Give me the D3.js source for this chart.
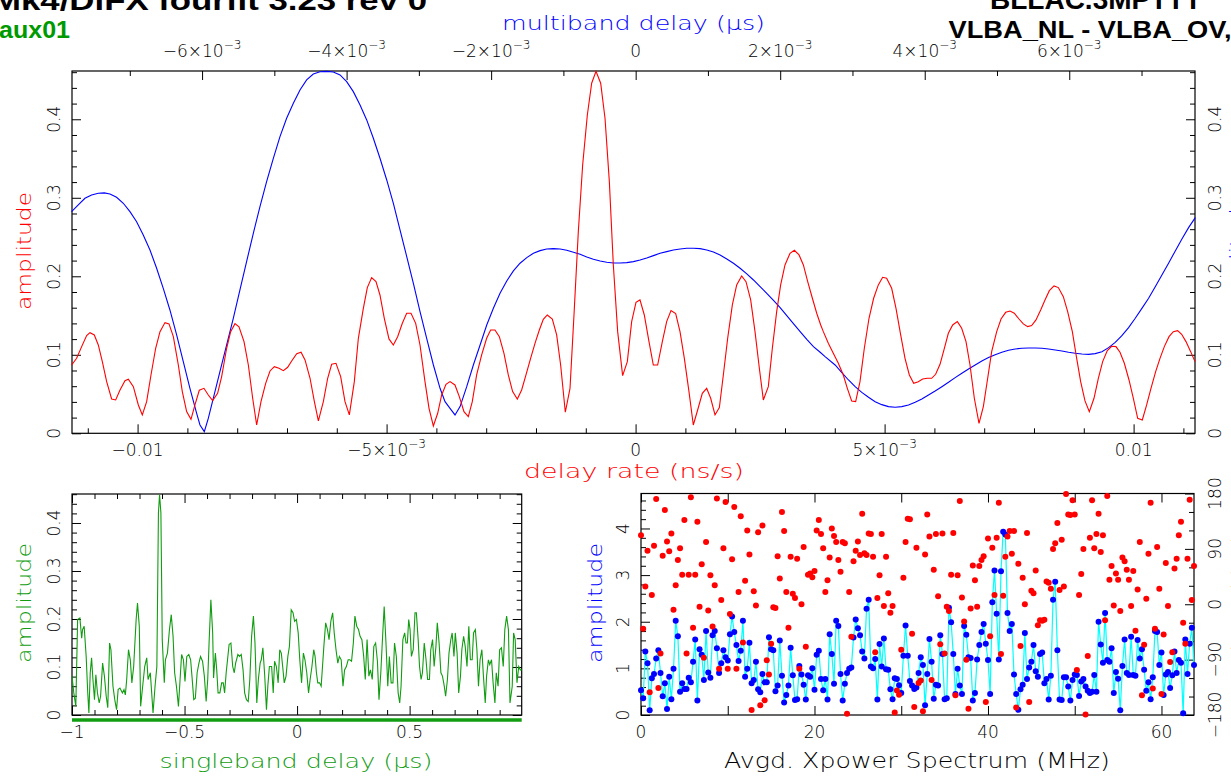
<!DOCTYPE html>
<html><head><meta charset="utf-8">
<script src="https://cdn.jsdelivr.net/npm/d3@7"></script>
<style>
body{margin:0;background:#fff;overflow:hidden}
svg{display:block}
text{font-family:"DejaVu Sans","Liberation Sans",sans-serif;font-weight:200}
.title{font-family:"Liberation Sans",Arial,sans-serif;font-weight:bold}
</style>
</head><body>
<svg id="c" width="1231" height="776"></svg>
<script>
// ---------------- data ----------------
// delay-rate spectrum (ns/s, amplitude) - red
const delayRateCurve = [
[-0.011324,0.087],[-0.011224,0.0955],[-0.011123,0.1104],[-0.011023,0.1244],[-0.010956,0.1282],[-0.010869,0.1253],[-0.010789,0.1125],[-0.010708,0.0913],[-0.010621,0.0658],[-0.010521,0.0437],[-0.01044,0.0425],[-0.010353,0.0552],[-0.010253,0.0671],[-0.010186,0.0688],[-0.010085,0.0594],[-0.009985,0.0361],[-0.009905,0.0234],[-0.009818,0.0403],[-0.009731,0.0743],[-0.009637,0.1083],[-0.00955,0.1295],[-0.00945,0.141],[-0.009369,0.1393],[-0.009282,0.1231],[-0.009182,0.087],[-0.009102,0.0531],[-0.009015,0.0276],[-0.008928,0.0178],[-0.008848,0.0361],[-0.008761,0.0548],[-0.008667,0.0573],[-0.00858,0.0488],[-0.008493,0.0416],[-0.008393,0.051],[-0.008312,0.0722],[-0.008212,0.1083],[-0.008131,0.1295],[-0.008044,0.1397],[-0.007964,0.1355],[-0.007863,0.1168],[-0.007776,0.087],[-0.007689,0.0446],[-0.007609,0.0106],[-0.007522,0.0403],[-0.007428,0.0637],[-0.007341,0.0794],[-0.007254,0.0849],[-0.00716,0.0828],[-0.007073,0.0798],[-0.006986,0.0841],[-0.006906,0.0921],[-0.006805,0.1015],[-0.006718,0.1032],[-0.006638,0.0934],[-0.006537,0.0701],[-0.00645,0.0403],[-0.00637,0.0157],[-0.00627,0.0403],[-0.006183,0.0701],[-0.006103,0.0879],[-0.006016,0.0892],[-0.005922,0.0722],[-0.005835,0.0403],[-0.005748,0.0234],[-0.005648,0.0658],[-0.005567,0.121],[-0.005467,0.1592],[-0.005387,0.1856],[-0.0053,0.1983],[-0.005213,0.1932],[-0.005133,0.1762],[-0.005046,0.1465],[-0.004952,0.1202],[-0.004865,0.1125],[-0.004778,0.1231],[-0.004684,0.1401],[-0.004597,0.1529],[-0.00451,0.1529],[-0.004416,0.1401],[-0.004329,0.1125],[-0.004229,0.0658],[-0.004148,0.0318],[-0.004061,0.0093],[-0.003974,0.0255],[-0.003894,0.0488],[-0.003807,0.0624],[-0.003726,0.0658],
[-0.003627,0.0616],[-0.00354,0.0467],[-0.003446,0.0276],[-0.003359,0.0212],[-0.003279,0.0403],[-0.003192,0.0743],[-0.003091,0.0998],[-0.002991,0.121],[-0.002911,0.1316],[-0.002824,0.1316],[-0.002736,0.1231],[-0.002643,0.1019],[-0.002556,0.0743],[-0.002469,0.0531],[-0.002375,0.0437],[-0.002288,0.0552],[-0.002201,0.0743],[-0.002108,0.0955],[-0.00202,0.1146],[-0.001933,0.1316],[-0.001853,0.1452],[-0.001773,0.1507],[-0.001672,0.1456],[-0.001585,0.1253],[-0.001505,0.087],[-0.001411,0.0268],[-0.001317,0.0573],[-0.001237,0.1507],[-0.00115,0.2569],[-0.001063,0.3418],[-0.000969,0.4055],[-0.000882,0.4459],[-0.000795,0.461],[-0.000701,0.4459],[-0.000614,0.4013],[-0.000527,0.3206],[-0.000447,0.2144],[-0.00036,0.1295],[-0.00026,0.0735],[-0.000166,0.0913],[-0.000079,0.1423],[0.000008,0.1669],[0.000088,0.1699],[0.000175,0.1507],[0.000269,0.1168],[0.000356,0.087],[0.000443,0.087],[0.000537,0.1168],[0.000624,0.1423],[0.000711,0.1563],[0.000805,0.1524],[0.000892,0.1295],[0.000979,0.0955],[0.001072,0.0531],[0.001159,0.0106],[0.001246,0.0297],[0.00134,0.051],[0.001427,0.0573],[0.001508,0.0446],[0.001595,0.0234],[0.001682,0.0327],[0.001762,0.0743],[0.001849,0.121],[0.001943,0.1635],[0.00203,0.189],[0.00213,0.2004],[0.002217,0.1932],[0.002311,0.1699],[0.002398,0.1295],[0.002485,0.0828],[0.002565,0.0425],[0.002665,0.0594],[0.002746,0.1083],[0.002833,0.155],[0.002913,0.189],[0.003,0.2144],[0.003101,0.2293],[0.003188,0.2331],[0.003282,0.2272],[0.003369,0.2144],[0.003456,0.1932],[0.00355,0.172],[0.003637,0.1529],[0.003717,0.138],
[0.00377,0.1295],[0.00387,0.1146],[0.00397,0.1019],[0.004071,0.0892],[0.004171,0.0743],[0.004252,0.0573],[0.004339,0.0412],[0.004419,0.0403],[0.004506,0.0658],[0.004593,0.1083],[0.004687,0.1465],[0.00478,0.172],[0.004874,0.189],[0.004961,0.1987],[0.005041,0.1975],[0.005142,0.1847],[0.005229,0.1592],[0.005323,0.1253],[0.00541,0.0955],[0.005497,0.0743],[0.005584,0.0637],[0.005677,0.0658],[0.005764,0.0692],[0.005858,0.0701],[0.005945,0.0701],[0.006025,0.0752],[0.006113,0.0879],[0.0062,0.1083],[0.00628,0.1274],[0.006367,0.138],[0.006461,0.1423],[0.006548,0.1338],[0.006635,0.1168],[0.006715,0.087],[0.006802,0.0446],[0.006896,0.0127],[0.006983,0.034],[0.00707,0.0701],[0.00715,0.104],[0.007251,0.1295],[0.007338,0.1456],[0.007432,0.1541],[0.007518,0.1558],[0.007605,0.1529],[0.007699,0.1456],[0.007786,0.1393],[0.007873,0.1359],[0.007953,0.1372],[0.00804,0.1444],[0.008134,0.1571],[0.008221,0.1699],[0.008308,0.1817],[0.008402,0.1877],[0.008489,0.1856],[0.008589,0.1741],[0.008676,0.155],[0.00877,0.1295],[0.008857,0.0955],[0.008937,0.0658],[0.009024,0.0412],[0.009111,0.0276],[0.009205,0.0446],[0.009292,0.0701],[0.009379,0.0913],[0.009472,0.1053],[0.009559,0.1108],[0.009646,0.1104],[0.009727,0.1032],[0.009814,0.0892],[0.009908,0.0679],[0.009995,0.0446],[0.010082,0.0191],[0.010175,0.017],[0.010262,0.0361],[0.010349,0.0573],[0.010443,0.0786],[0.01053,0.0955],[0.010617,0.1104],[0.010711,0.1231],[0.010798,0.1295],[0.010885,0.1308],[0.010965,0.1261],[0.011052,0.1168],[0.011146,0.104],[0.011233,0.0913]
];
// multiband delay function (us, amplitude) - blue
const multibandCurve = [
[-0.007806,0.2824],[-0.007713,0.2909],[-0.007621,0.2994],[-0.007529,0.3036],[-0.007436,0.3057],[-0.007353,0.3062],[-0.007275,0.3049],[-0.007183,0.3006],[-0.00709,0.293],[-0.006998,0.2824],[-0.006906,0.2696],[-0.006814,0.2527],[-0.006721,0.2335],[-0.006629,0.2102],[-0.006537,0.1847],[-0.006445,0.1571],[-0.006352,0.1253],[-0.00626,0.0913],[-0.006168,0.0573],[-0.006075,0.0255],[-0.006029,0.0106],[-0.005969,0.0021],[-0.005914,0.0191],[-0.005845,0.0446],[-0.005753,0.0786],[-0.00566,0.1125],[-0.005568,0.1465],[-0.005476,0.1826],[-0.005384,0.2187],[-0.005291,0.2548],[-0.005199,0.2887],[-0.005107,0.3206],[-0.005014,0.3503],[-0.004922,0.3779],[-0.00483,0.4013],[-0.004737,0.4204],[-0.004645,0.4374],[-0.004553,0.4501],[-0.004461,0.4577],[-0.004368,0.4606],[-0.004276,0.461],[-0.004184,0.4602],[-0.004091,0.4565],[-0.003999,0.448],[-0.003907,0.4352],[-0.003814,0.4183],[-0.003722,0.3992],[-0.00363,0.3758],[-0.003538,0.3503],[-0.003445,0.3227],[-0.003353,0.293],[-0.003261,0.259],[-0.003168,0.2251],[-0.003076,0.1911],[-0.002984,0.155],[-0.002892,0.121],[-0.002799,0.087],[-0.002707,0.0573],[-0.002638,0.0403],[-0.002569,0.0318],
[-0.0025,0.0234],[-0.00243,0.034],[-0.002338,0.0594],[-0.002246,0.087],[-0.002153,0.1125],[-0.002061,0.138],[-0.001969,0.1592],[-0.001877,0.1783],[-0.001784,0.1941],[-0.001692,0.2068],[-0.0016,0.2166],[-0.001507,0.2238],[-0.001415,0.2293],[-0.001323,0.2327],[-0.001231,0.2348],[-0.001138,0.2352],[-0.001046,0.2348],[-0.000954,0.2331],[-0.000861,0.2306],[-0.000769,0.228],[-0.000677,0.2246],[-0.000585,0.2217],[-0.000492,0.2195],[-0.0004,0.2178],[-0.000308,0.217],[-0.000215,0.217],[-0.000123,0.2174],[-0.000031,0.2187],[0.000061,0.2208],[0.000153,0.2234],[0.000246,0.2263],[0.000338,0.2293],[0.00043,0.2314],[0.000522,0.2335],[0.000615,0.2348],[0.000707,0.2357],[0.000799,0.2357],[0.000892,0.2352],[0.000984,0.2335],[0.001076,0.231],[0.001168,0.2272],[0.001261,0.2221],[0.001353,0.2166],[0.001445,0.2102],[0.001538,0.203],[0.00163,0.1953],[0.001722,0.1868],[0.001814,0.1783],[0.001907,0.1694],[0.001999,0.1601],[0.002091,0.1499],[0.002183,0.1397],[0.002276,0.1295],[0.002368,0.1197],[0.00246,0.1104],[0.002553,0.1032],[0.002621,0.0977],
[0.00276,0.087],[0.002853,0.0773],[0.002945,0.0679],[0.003037,0.0594],[0.003129,0.0522],[0.003222,0.0459],[0.003314,0.0403],[0.003406,0.0365],[0.003498,0.034],[0.003591,0.0331],[0.003683,0.034],[0.003775,0.0361],[0.003868,0.0395],[0.00396,0.0437],[0.004052,0.0488],[0.004144,0.0539],[0.004237,0.0594],[0.004329,0.065],[0.004421,0.0709],[0.004514,0.0764],[0.004606,0.082],[0.004698,0.087],[0.00479,0.0921],[0.004883,0.0964],[0.004975,0.1002],[0.005067,0.1032],[0.00516,0.1057],[0.005252,0.1074],[0.005344,0.1083],[0.005436,0.1087],[0.005529,0.1087],[0.005621,0.1083],[0.005713,0.1074],[0.005806,0.1062],[0.005898,0.1049],[0.00599,0.1032],[0.006082,0.1019],[0.006175,0.1011],[0.006267,0.1006],[0.006359,0.1015],[0.006452,0.104],[0.006544,0.1091],[0.006636,0.1159],[0.006728,0.1244],[0.006821,0.1346],[0.006913,0.1465],[0.007005,0.1592],[0.007098,0.172],[0.00719,0.1868],[0.007282,0.2017],[0.007374,0.2166],[0.007467,0.2323],[0.007559,0.2476],[0.007651,0.262],[0.007744,0.2747]
];
// singleband delay function (us, amplitude) - green
const singlebandCurve = [
[-1.000,0.081],[-0.992,0.046],[-0.983,0.018],[-0.975,0.199],[-0.965,0.202],[-0.957,0.160],[-0.953,0.178],[-0.946,0.185],[-0.937,0.122],[-0.930,0.046],[-0.925,0.004],[-0.919,0.088],[-0.913,0.119],[-0.907,0.074],[-0.900,0.032],[-0.894,0.084],[-0.887,0.046],[-0.879,0.025],[-0.873,0.039],[-0.864,0.108],[-0.856,0.081],[-0.848,0.039],[-0.841,0.015],[-0.833,0.150],[-0.827,0.136],[-0.818,0.060],[-0.810,0.032],[-0.802,0.011],[-0.795,0.053],[-0.787,0.056],[-0.776,0.046],[-0.769,0.053],[-0.763,0.042],[-0.757,0.074],[-0.749,0.136],[-0.741,0.115],[-0.734,0.067],[-0.726,0.101],[-0.715,0.199],[-0.709,0.233],[-0.701,0.185],[-0.695,0.018],[-0.686,0.060],[-0.677,0.101],[-0.668,0.119],[-0.662,0.074],[-0.652,0.088],[-0.645,0.039],[-0.640,0.004],[-0.631,0.060],[-0.623,0.101],[-0.616,0.421],[-0.611,0.459],[-0.605,0.421],[-0.599,0.157],[-0.590,0.067],[-0.585,0.115],[-0.576,0.129],[-0.567,0.178],[-0.559,0.209],[-0.551,0.164],[-0.544,0.088],[-0.536,0.060],[-0.527,0.018],[-0.518,0.088],[-0.513,0.126],[-0.505,0.115],[-0.498,0.070],[-0.490,0.122],[-0.481,0.126],[-0.473,0.115],[-0.467,0.081],[-0.459,0.032],[-0.452,0.035],[-0.444,0.088],[-0.436,0.108],[-0.429,0.122],[-0.420,0.112],[-0.412,0.081],[-0.404,0.028],[-0.397,0.074],[-0.391,0.150],[-0.383,0.240],[-0.375,0.171],[-0.371,0.077],[-0.363,0.129],[-0.357,0.094],[-0.351,0.046],[-0.343,0.046],[-0.335,0.067],[-0.328,0.067],[-0.322,0.046],[-0.315,0.088],[-0.309,0.115],[-0.302,0.147],[-0.294,0.150],[-0.286,0.101],[-0.279,0.088],[-0.273,0.108],[-0.263,0.126],[-0.256,0.122],[-0.248,0.126],[-0.240,0.094],[-0.233,0.046],[-0.225,0.032],[-0.217,0.028],[-0.210,0.074],[-0.202,0.164],[-0.194,0.206],[-0.187,0.150],[-0.179,0.025],[-0.172,0.074],[-0.164,0.108],[-0.159,0.115],[-0.152,0.140],[-0.144,0.084],[-0.136,0.011],[-0.130,0.060],[-0.123,0.101],[-0.113,0.101],[-0.106,0.046],[-0.100,0.112],[-0.092,0.101],[-0.084,0.067],[-0.077,0.136],[-0.070,0.129],[-0.064,0.101],[-0.057,0.067],[-0.049,0.081],[-0.041,0.122],[-0.034,0.143],[-0.026,0.219],[-0.018,0.213],[-0.011,0.195],[-0.003,0.199],[0.005,0.171],[0.012,0.115],[0.020,0.067],[0.028,0.129],[0.035,0.115],[0.043,0.088],[0.051,0.046],[0.058,0.074],[0.066,0.101],[0.074,0.136],[0.080,0.122],[0.086,0.088],[0.092,0.067],[0.100,0.067],[0.107,0.060],[0.113,0.101],[0.119,0.143],[0.127,0.192],[0.135,0.178],[0.142,0.157],[0.150,0.195],[0.158,0.213],[0.165,0.171],[0.173,0.136],[0.181,0.108],[0.188,0.122],[0.196,0.115],[0.204,0.060],[0.211,0.094],[0.219,0.101],[0.227,0.115],[0.234,0.115],[0.242,0.112],[0.250,0.150],[0.257,0.206],[0.265,0.185],[0.273,0.178],[0.280,0.164],[0.288,0.157],[0.296,0.122],[0.303,0.074],[0.311,0.157],[0.319,0.081],[0.326,0.094],[0.334,0.074],[0.341,0.143],[0.349,0.150],[0.357,0.112],[0.364,0.032],[0.372,0.088],[0.380,0.164],[0.387,0.226],[0.395,0.150],[0.403,0.060],[0.410,0.122],[0.418,0.067],[0.426,0.067],[0.433,0.150],[0.441,0.122],[0.449,0.046],[0.456,0.025],[0.462,0.060],[0.470,0.157],[0.478,0.171],[0.484,0.150],[0.490,0.150],[0.496,0.199],[0.502,0.178],[0.508,0.122],[0.516,0.136],[0.524,0.213],[0.530,0.213],[0.538,0.157],[0.544,0.101],[0.551,0.074],[0.557,0.088],[0.565,0.150],[0.573,0.115],[0.580,0.074],[0.588,0.074],[0.594,0.136],[0.602,0.157],[0.609,0.101],[0.617,0.143],[0.623,0.192],[0.631,0.150],[0.639,0.088],[0.646,0.081],[0.654,0.060],[0.660,0.039],[0.668,0.074],[0.675,0.129],[0.683,0.157],[0.689,0.171],[0.697,0.122],[0.703,0.171],[0.711,0.129],[0.718,0.046],[0.726,0.081],[0.732,0.136],[0.740,0.164],[0.747,0.143],[0.755,0.101],[0.763,0.185],[0.770,0.115],[0.778,0.115],[0.784,0.171],[0.792,0.178],[0.799,0.136],[0.806,0.060],[0.813,0.115],[0.821,0.136],[0.828,0.081],[0.836,0.025],[0.842,0.081],[0.850,0.115],[0.856,0.105],[0.864,0.115],[0.871,0.067],[0.879,0.025],[0.885,0.088],[0.893,0.060],[0.900,0.136],[0.908,0.140],[0.916,0.101],[0.923,0.178],[0.931,0.206],[0.939,0.178],[0.946,0.025],[0.956,0.060],[0.962,0.171],[0.969,0.157],[0.977,0.067],[0.985,0.101],[0.992,0.094],[0.998,0.094]
];
const sbdWindow = [-1.0, 0.998];
// cross-power spectrum: channel spacing (MHz), amplitude, phase (deg)
const chanStepMHz = 0.25;
const xpAmp = [
0.53,0.36,1.36,1.11,0.10,0.79,0.88,1.21,1.39,0.90,0.40,0.68,0.13,0.82,0.34,0.99,2.02,1.69,0.50,0.68,
0.56,0.56,0.80,0.70,1.14,1.62,0.31,1.41,1.29,0.75,1.80,0.91,0.80,1.71,1.80,1.43,0.90,1.11,1.39,1.24,
1.17,1.73,2.11,1.78,1.50,1.16,1.38,2.02,0.82,0.99,1.55,0.68,0.75,1.14,0.55,0.49,0.88,0.70,0.70,1.67,
1.41,1.39,0.51,0.63,1.60,0.84,0.27,0.43,0.63,1.44,0.85,0.32,0.34,1.05,0.87,0.65,0.33,0.85,0.82,1.00,
0.54,1.29,1.38,0.77,0.53,0.77,0.33,1.73,1.31,0.67,2.02,1.91,0.88,0.31,0.67,0.90,0.99,1.02,1.66,2.05,
1.86,1.71,1.36,1.21,2.28,2.47,1.04,1.00,1.20,0.33,1.52,1.04,1.64,0.98,0.97,0.55,0.34,0.79,0.77,0.64,
0.47,1.27,1.92,1.27,0.73,0.63,0.56,0.59,0.90,1.24,1.07,0.21,0.88,1.63,1.14,0.35,0.65,0.63,1.71,1.31,
0.34,0.36,2.30,1.99,1.31,0.45,0.99,0.63,0.45,1.91,1.72,1.24,1.22,0.31,0.47,1.19,1.50,1.78,1.95,1.53,
1.18,0.45,2.42,3.10,2.17,1.19,3.08,3.93,3.87,2.19,1.80,1.95,0.87,0.45,0.11,0.55,0.65,1.76,0.77,1.02,
1.14,1.50,0.94,0.82,1.31,1.34,0.68,0.77,0.33,0.84,2.47,2.86,1.39,0.33,0.32,0.81,0.81,0.61,0.31,0.75,
0.87,0.86,0.41,0.72,0.77,0.61,0.52,0.47,0.50,0.86,0.50,2.00,1.51,1.12,2.19,1.18,1.14,1.43,0.47,0.92,
0.78,0.10,1.05,1.62,0.90,0.86,1.68,0.86,0.84,1.61,1.21,1.41,0.97,0.52,0.70,0.34,0.81,1.80,1.78,1.07,
1.34,0.43,0.87,0.92,0.58,0.85,1.36,0.90,1.18,1.12,0.04,1.62,0.88,1.53,1.87,1.07
];
const xpPhase = [
112,-40,29,87,-143,15,95,171,-136,-80,79,153,102,86,115,-9,31,72,91,48,
137,-80,48,174,-38,48,134,-4,65,-87,101,-10,47,-36,31,172,-105,7,91,166,
-105,-16,73,158,-105,20,143,-62,38,120,81,-172,21,-2,117,-164,128,-156,-91,-114,
-64,-5,-6,78,42,150,119,20,-38,77,17,10,74,-105,0,93,-69,48,50,44,
54,120,137,114,91,20,39,76,123,111,101,72,53,101,99,-178,20,-53,70,87,
102,80,147,83,80,115,114,77,-78,10,47,114,-3,77,18,-14,-3,-176,-140,-147,
-74,43,101,139,138,-48,-167,92,-128,-124,-174,81,146,110,-123,56,114,13,-65,115,
-80,-4,-11,48,116,-148,47,168,11,-28,-90,-170,-7,63,39,-4,62,72,78,-159,
107,-52,92,15,108,165,-81,14,77,110,119,82,119,-168,66,-68,43,0,116,-159,
22,18,55,-34,-26,-27,-25,37,35,25,90,99,132,23,105,29,179,146,145,169,
146,-107,15,49,90,-179,-84,108,169,91,114,147,85,112,-26,176,40,62,-2,50,
40,-11,76,70,56,40,-3,54,-43,24,101,-148,-66,9,82,165,-137,-40,93,25,
-146,-49,67,-3,-94,-78,58,74,112,134,-30,-64,74,170,7,62
];
// tick values / labels
const rateTicks = [-0.01,-0.005,0,0.005,0.01];
const rateLabels = ["−0.01","−5×10^−3","0","5×10^−3","0.01"];
const mbdTicks = [-0.006,-0.004,-0.002,0,0.002,0.004,0.006];
const mbdLabels = ["−6×10^−3","−4×10^−3","−2×10^−3","0","2×10^−3","4×10^−3","6×10^−3"];
const ampTicks = [0,0.1,0.2,0.3,0.4];
const ampLabels = ["0","0.1","0.2","0.3","0.4"];
const sbdTicks = [-1,-0.5,0,0.5];
const sbdLabels = ["−1","−0.5","0","0.5"];
const freqTicks = [0,20,40,60];
const freqLabels = ["0","20","40","60"];
const xpAmpTicks = [0,1,2,3,4];
const xpAmpLabels = ["0","1","2","3","4"];
const phaseTicks = [-180,-90,0,90,180];
const phaseLabels = ["−180","−90","0","90","180"];

// ---------------- drawing ----------------
const svg = d3.select("#c");
const RED="#ff0000", BLUE="#0000ff", GREEN="#119c11", CYAN="#00ffff";
const TOP={l:72,r:1195,t:71,b:433.3};
const BL={l:72,r:521.7,t:494,b:715};
const BR={l:641,r:1194,t:493.5,b:715};

const xRate = d3.scaleLinear().domain([-0.011317,0.011233]).range([TOP.l,TOP.r]);
const xMbd  = d3.scaleLinear().domain([-0.0078,0.00774]).range([TOP.l,TOP.r]);
const yTop  = d3.scaleLinear().domain([0,0.4615]).range([TOP.b,TOP.t]);
const xSbd  = d3.scaleLinear().domain([-1,0.998]).range([BL.l,BL.r]);
const ySbd  = d3.scaleLinear().domain([0,0.4604]).range([BL.b,BL.t]);
const xFreq = d3.scaleLinear().domain([0,63.75]).range([BR.l,BR.r]);
const yXAmp = d3.scaleLinear().domain([0,4.75]).range([BR.b,BR.t]);
const yPh   = d3.scaleLinear().domain([-180,180]).range([BR.b,BR.t]);

function ticks(axisFn, scale, vals, len, tr){
  const g = svg.append("g").attr("transform",tr)
    .call(axisFn(scale).tickValues(vals).tickSize(-len).tickFormat(""));
  g.select(".domain").remove();
  g.selectAll("line").attr("stroke","#000").attr("stroke-width",1);
}
function frame(P){
  svg.append("rect").attr("x",P.l).attr("y",P.t).attr("width",P.r-P.l).attr("height",P.b-P.t)
    .attr("fill","none").attr("stroke","#000").attr("stroke-width",1.2);
}
function minor(lo,hi,step,majors){
  return d3.range(Math.round(lo/step),Math.round(hi/step)+1).map(i=>+(i*step).toFixed(6))
    .filter(v=>!majors.some(m=>Math.abs(m-v)<step/10));
}
const MAJ=9, MIN=5, FS=17;
function hlabel(x,y,str,color){
  const parts=str.split("^");
  const t=svg.append("text").attr("x",x).attr("y",y).attr("text-anchor","middle")
    .attr("font-size",FS).attr("fill",color||"#000");
  t.append("tspan").text(parts[0]);
  if(parts[1]) t.append("tspan").attr("dy",-8).attr("font-size",12).text(parts[1]);
}
function vlabel(x,y,str,color,fs,len){
  const t=svg.append("text").attr("transform",`translate(${x},${y}) rotate(-90)`)
    .attr("text-anchor","middle").attr("font-size",fs||FS).attr("fill",color||"#000").text(str);
  if(len) t.attr("textLength",len).attr("lengthAdjust","spacingAndGlyphs");
}
function title(x,y,str,color,fs,len){
  const t=svg.append("text").attr("x",x).attr("y",y).attr("text-anchor","middle")
    .attr("font-size",fs).attr("fill",color).text(str);
  if(len) t.attr("textLength",len).attr("lengthAdjust","spacingAndGlyphs");
}

// ===== top panel =====
frame(TOP);
const ampMinor = minor(0,0.46,0.02,ampTicks);
ticks(d3.axisLeft, yTop, ampTicks, MAJ, `translate(${TOP.l},0)`);
ticks(d3.axisLeft, yTop, ampMinor, MIN, `translate(${TOP.l},0)`);
ticks(d3.axisRight, yTop, ampTicks, MAJ, `translate(${TOP.r},0)`);
ticks(d3.axisRight, yTop, ampMinor, MIN, `translate(${TOP.r},0)`);
ticks(d3.axisBottom, xRate, rateTicks, MAJ, `translate(0,${TOP.b})`);
ticks(d3.axisBottom, xRate, minor(-0.011,0.011,0.001,rateTicks), MIN, `translate(0,${TOP.b})`);
ticks(d3.axisTop, xMbd, mbdTicks, MAJ, `translate(0,${TOP.t})`);
ticks(d3.axisTop, xMbd, minor(-0.007,0.007,0.001,mbdTicks), MIN, `translate(0,${TOP.t})`);

svg.append("path").datum(multibandCurve).attr("fill","none").attr("stroke",BLUE).attr("stroke-width",1.1)
  .attr("d",d3.line().x(d=>xMbd(d[0])).y(d=>yTop(d[1])));
svg.append("path").datum(delayRateCurve).attr("fill","none").attr("stroke",RED).attr("stroke-width",1.1)
  .attr("d",d3.line().x(d=>xRate(d[0])).y(d=>yTop(d[1])));

rateTicks.forEach((v,i)=>hlabel(xRate(v),456,rateLabels[i]));
mbdTicks.forEach((v,i)=>hlabel(xMbd(v),57,mbdLabels[i]));
ampTicks.forEach((v,i)=>{vlabel(60,yTop(v),ampLabels[i]); vlabel(1221,yTop(v),ampLabels[i]);});
title(634,478,"delay rate (ns/s)",RED,20,220);
title(633.5,30,"multiband delay (μs)",BLUE,20,263);
vlabel(31,251,"amplitude",RED,19,118);
vlabel(1244,253,"amplitude",BLUE,19,118);

// ===== bottom-left panel =====
frame(BL);
const sbAmpMinor = minor(0,0.46,0.02,ampTicks);
ticks(d3.axisLeft, ySbd, ampTicks, MAJ, `translate(${BL.l},0)`);
ticks(d3.axisLeft, ySbd, sbAmpMinor, MIN, `translate(${BL.l},0)`);
ticks(d3.axisRight, ySbd, ampTicks, MAJ, `translate(${BL.r},0)`);
ticks(d3.axisRight, ySbd, sbAmpMinor, MIN, `translate(${BL.r},0)`);
ticks(d3.axisBottom, xSbd, sbdTicks, MAJ, `translate(0,${BL.b})`);
ticks(d3.axisBottom, xSbd, minor(-1,0.9,0.1,sbdTicks), MIN, `translate(0,${BL.b})`);
ticks(d3.axisTop, xSbd, sbdTicks, MAJ, `translate(0,${BL.t})`);
ticks(d3.axisTop, xSbd, minor(-1,0.9,0.1,sbdTicks), MIN, `translate(0,${BL.t})`);
svg.append("path").datum(singlebandCurve).attr("fill","none").attr("stroke",GREEN).attr("stroke-width",1.1)
  .attr("d",d3.line().x(d=>xSbd(d[0])).y(d=>ySbd(d[1])));
svg.append("line").attr("x1",xSbd(sbdWindow[0])).attr("x2",xSbd(sbdWindow[1]))
  .attr("y1",BL.b+5).attr("y2",BL.b+5).attr("stroke",GREEN).attr("stroke-width",3.5);
sbdTicks.forEach((v,i)=>hlabel(xSbd(v),738,sbdLabels[i]));
ampTicks.forEach((v,i)=>vlabel(60,ySbd(v),ampLabels[i]));
title(296,768,"singleband delay (μs)",GREEN,20,273);
vlabel(31,603,"amplitude",GREEN,19,120);

// ===== bottom-right panel =====
frame(BR);
ticks(d3.axisLeft, yXAmp, xpAmpTicks, MAJ, `translate(${BR.l},0)`);
ticks(d3.axisLeft, yXAmp, minor(0,4.6,0.2,xpAmpTicks), MIN, `translate(${BR.l},0)`);
ticks(d3.axisRight, yPh, phaseTicks, MAJ, `translate(${BR.r},0)`);
ticks(d3.axisRight, yPh, minor(-180,180,30,phaseTicks), MIN, `translate(${BR.r},0)`);
const freqAll = [0,10,20,30,40,50,60];
ticks(d3.axisBottom, xFreq, freqAll, MAJ, `translate(0,${BR.b})`);
ticks(d3.axisTop, xFreq, freqAll, MAJ, `translate(0,${BR.t})`);

const spec = xpAmp.map((a,i)=>({f:i*chanStepMHz, a:a, p:xpPhase[i]}));
svg.append("clipPath").attr("id","brclip").append("rect")
  .attr("x",BR.l-4).attr("y",BR.t-4).attr("width",BR.r-BR.l+8).attr("height",BR.b-BR.t+8);
const gBR = svg.append("g").attr("clip-path","url(#brclip)");
gBR.append("path").datum(spec).attr("fill","none").attr("stroke",CYAN).attr("stroke-width",1.2)
  .attr("d",d3.line().x(d=>xFreq(d.f)).y(d=>yXAmp(d.a)));
gBR.selectAll("circle.amp").data(spec).join("circle").attr("class","amp")
  .attr("cx",d=>xFreq(d.f)).attr("cy",d=>yXAmp(d.a)).attr("r",3).attr("fill",BLUE);
gBR.selectAll("circle.ph").data(spec.filter(d=>d.p!==undefined)).join("circle").attr("class","ph")
  .attr("cx",d=>xFreq(d.f)).attr("cy",d=>yPh(d.p)).attr("r",3).attr("fill",RED);

freqTicks.forEach((v,i)=>hlabel(xFreq(v),738,freqLabels[i]));
xpAmpTicks.forEach((v,i)=>vlabel(629,yXAmp(v),xpAmpLabels[i]));
phaseTicks.forEach((v,i)=>vlabel(1221,yPh(v),phaseLabels[i]));
title(917,768,"Avgd. Xpower Spectrum (MHz)","#000",21,386);
vlabel(602,603,"amplitude",BLUE,19,120);
vlabel(1246,600,"phase (deg)",RED,19,130);

// ===== header texts =====
svg.append("text").attr("class","title").attr("x",-8).attr("y",10).attr("font-size",28)
  .attr("textLength",435).attr("lengthAdjust","spacingAndGlyphs").text("Mk4/DiFX fourfit 3.23 rev 0");
svg.append("text").attr("class","title").attr("x",-1).attr("y",38).attr("font-size",23).attr("fill","#009a00")
  .attr("textLength",71).attr("lengthAdjust","spacingAndGlyphs").text("aux01");
svg.append("text").attr("class","title").attr("x",990).attr("y",9).attr("font-size",28)
  .text("BLLAC.3MPTTT");
svg.append("text").attr("class","title").attr("x",948.5).attr("y",38).attr("font-size",23)
  .attr("textLength",283).attr("lengthAdjust","spacingAndGlyphs").text("VLBA_NL - VLBA_OV,");
</script>
</body></html>
